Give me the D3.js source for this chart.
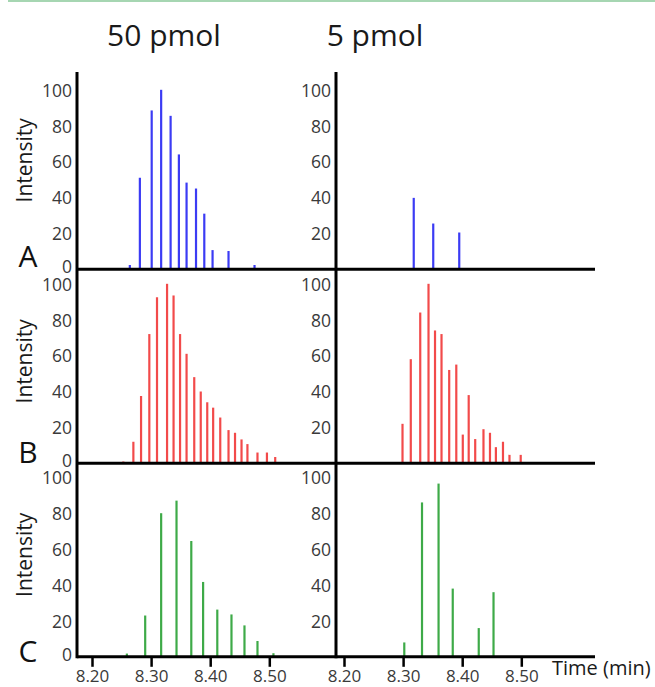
<!DOCTYPE html>
<html>
<head>
<meta charset="utf-8">
<script src="https://cdn.jsdelivr.net/npm/d3@7"></script>
<style>
  html, body { margin: 0; padding: 0; background: #fff; }
  svg { display: block; }
  text { font-family: "Open Sans", "Noto Sans", sans-serif; }
</style>
</head>
<body>
<div id="chart"></div>
<script>
// ---- DATA ----
const columnTitles = ["50 pmol", "5 pmol"];
const rowLabels = ["A", "B", "C"];
const xTickValues = [8.20, 8.30, 8.40, 8.50];
const yTickValuesLeft = [0, 20, 40, 60, 80, 100];
const yTickValuesRight = [20, 40, 60, 80, 100];

// Row A (blue)
const aLeftTime = [8.264, 8.281, 8.301, 8.317, 8.333, 8.347, 8.360, 8.376, 8.390, 8.404, 8.431, 8.475];
const aLeftIntensity = [2.4, 51, 88.5, 100, 85.5, 64, 48.3, 45, 31, 10.7, 10.2, 2.4];
const aRightTime = [8.318, 8.351, 8.395];
const aRightIntensity = [39.8, 25.5, 20.5];

// Row B (red)
const bLeftTime = [8.253, 8.270, 8.283, 8.297, 8.310, 8.327, 8.338, 8.349, 8.360, 8.373, 8.384, 8.395, 8.405, 8.417, 8.431, 8.442, 8.453, 8.463, 8.480, 8.496, 8.510];
const bLeftIntensity = [1, 12, 37.5, 72, 92.5, 100, 93.5, 72, 61, 48, 40, 34, 31, 25.5, 18.5, 17, 13.3, 10.7, 6, 6, 3.5];
const bRightTime = [8.299, 8.313, 8.329, 8.343, 8.354, 8.365, 8.378, 8.390, 8.401, 8.411, 8.422, 8.436, 8.447, 8.457, 8.469, 8.480, 8.499];
const bRightIntensity = [22, 58, 84, 100, 74, 72, 52, 55, 16, 38, 13.5, 19, 17, 9, 12, 4.7, 4.7];

// Row C (green)
const cLeftTime = [8.259, 8.290, 8.317, 8.343, 8.368, 8.388, 8.412, 8.436, 8.458, 8.480, 8.507];
const cLeftIntensity = [1.8, 23, 80, 87, 64.5, 41.7, 26.3, 23.6, 17.5, 8.8, 2];
const cRightTime = [8.302, 8.332, 8.360, 8.384, 8.428, 8.453];
const cRightIntensity = [8, 86, 96.5, 38, 16, 36];

const rowColors = ["#3b3bf4", "#f24a4a", "#3eaa48"];

// ---- LAYOUT ----
const W = 655, H = 687;
const leftAxisX = 77, rightAxisX = 336, plotRight = 595;
const axisTop = 72;
const baselines = [269.3, 463.3, 656.8];
const pxPer100 = 179.5;
const leftX = d3.scaleLinear().domain([8.20, 8.50]).range([92, 269.3]);
const rightX = d3.scaleLinear().domain([8.20, 8.50]).range([344, 521.3]);

const svg = d3.select("#chart").append("svg").attr("width", W).attr("height", H);

// top rule
svg.append("line").attr("x1", 8).attr("x2", W).attr("y1", 1).attr("y2", 1)
  .attr("stroke", "#a6d6b2").attr("stroke-width", 2);

// column titles
svg.selectAll("text.title").data(columnTitles).join("text")
  .attr("class", "title")
  .attr("x", (d, i) => i === 0 ? 164 : 375)
  .attr("y", 46)
  .attr("text-anchor", "middle")
  .attr("font-size", 30)
  .attr("fill", "#1a1a1a")
  .text(d => d);

const rowsData = [
  { left: [aLeftTime, aLeftIntensity], right: [aRightTime, aRightIntensity] },
  { left: [bLeftTime, bLeftIntensity], right: [bRightTime, bRightIntensity] },
  { left: [cLeftTime, cLeftIntensity], right: [cRightTime, cRightIntensity] }
];

const labelBaselines = [267, 463, 662];
const intensityOffsets = [109, 102, 102];

rowsData.forEach((row, ri) => {
  const base = baselines[ri];
  const y = d3.scaleLinear().domain([0, 100]).range([base, base - pxPer100]);
  const g = svg.append("g");

  [["left", leftX, leftAxisX, yTickValuesLeft], ["right", rightX, rightAxisX, yTickValuesRight]].forEach(([side, x, ax, yt]) => {
    const [ts, vs] = row[side];
    const pts = ts.map((t, i) => ({ t, v: vs[i] }));
    g.append("g").selectAll("line").data(pts).join("line")
      .attr("x1", d => x(d.t)).attr("x2", d => x(d.t))
      .attr("y1", y(0)).attr("y2", d => y(d.v))
      .attr("stroke", rowColors[ri]).attr("stroke-width", 2.2);

    const yAxis = g.append("g").attr("transform", `translate(${ax - 1},0)`)
      .call(d3.axisLeft(y).tickValues(yt).tickSize(0).tickPadding(4).tickFormat(d3.format("d")));
    yAxis.select(".domain").remove();
    yAxis.attr("font-size", 17.5).attr("font-family", "'Open Sans', sans-serif");
    yAxis.selectAll("text").attr("fill", "#3a3a3a")
      .attr("dy", d => d === 0 ? "0.2em" : "0.36em");
  });

  // baseline
  g.append("line").attr("x1", leftAxisX).attr("x2", plotRight)
    .attr("y1", base).attr("y2", base)
    .attr("stroke", "#000").attr("stroke-width", 3);

  // Intensity label
  g.append("text")
    .attr("transform", `translate(32,${base - intensityOffsets[ri]}) rotate(-90)`)
    .attr("text-anchor", "middle")
    .attr("font-size", 21)
    .attr("fill", "#1a1a1a")
    .text("Intensity");

  // row letter
  g.append("text")
    .attr("x", 28).attr("y", labelBaselines[ri])
    .attr("text-anchor", "middle")
    .attr("font-size", 30)
    .attr("fill", "#111")
    .text(rowLabels[ri]);
});

// vertical axes
[leftAxisX, rightAxisX].forEach(ax => {
  svg.append("line").attr("x1", ax).attr("x2", ax)
    .attr("y1", axisTop).attr("y2", baselines[2] + 1.5)
    .attr("stroke", "#000").attr("stroke-width", 3);
});

// x axes
[leftX, rightX].forEach(x => {
  const xa = svg.append("g").attr("transform", `translate(0,${baselines[2]})`)
    .call(d3.axisBottom(x).tickValues(xTickValues).tickSize(10).tickPadding(3).tickFormat(d3.format(".2f")));
  xa.select(".domain").remove();
  xa.attr("font-size", 17).attr("font-family", "'Open Sans', sans-serif");
  xa.selectAll(".tick line").attr("stroke", "#000").attr("stroke-width", 2.5);
  xa.selectAll("text").attr("fill", "#3a3a3a");
});

svg.append("text")
  .attr("x", 552).attr("y", 675)
  .attr("font-size", 20)
  .attr("fill", "#1a1a1a")
  .text("Time (min)");
</script>
</body>
</html>
